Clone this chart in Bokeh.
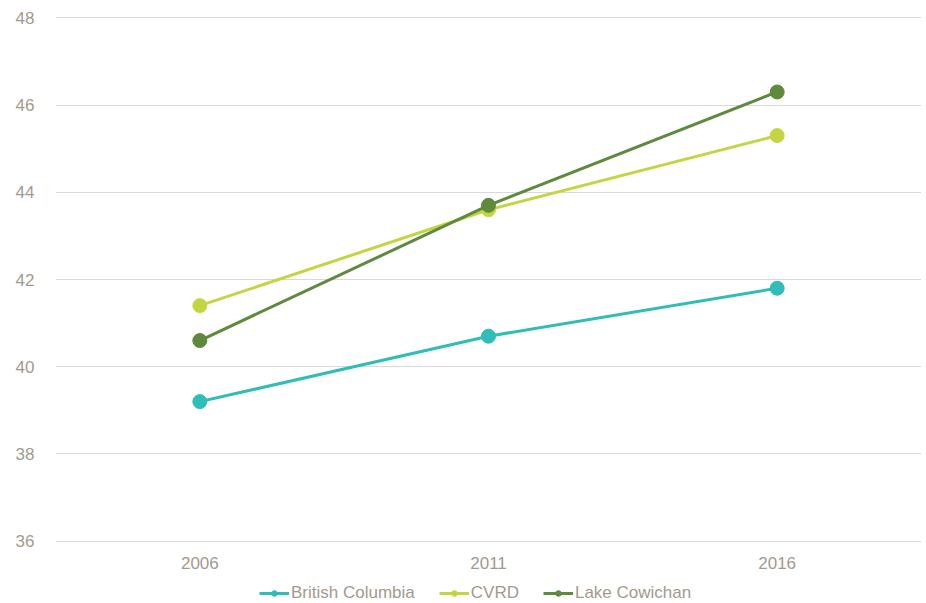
from bokeh.plotting import figure
from bokeh.models import Legend, LegendItem, ColumnDataSource, FixedTicker, Range1d
from bokeh.layouts import column
from bokeh.embed import file_html
from bokeh.resources import INLINE

years = ["2006", "2011", "2016"]
british_columbia = [39.2, 40.7, 41.8]
cvrd = [41.4, 43.6, 45.3]
lake_cowichan = [40.6, 43.7, 46.3]
y_ticks = [36, 38, 40, 42, 44, 46, 48]

series = [
    ("British Columbia", british_columbia, "#2fbdb7"),
    ("CVRD", cvrd, "#c3d641"),
    ("Lake Cowichan", lake_cowichan, "#5e8a3d"),
]

TEXT = "#a39a8f"
FONT = "Liberation Sans"
FS = "17px"

p = figure(x_range=years, y_range=Range1d(35.97, 48.03),
           width=921, height=577,
           min_border_left=55, min_border_top=16, min_border_right=0,
           min_border_bottom=35,
           output_backend="svg", toolbar_location=None)
p.x_range.range_padding = 0
p.outline_line_color = None
p.background_fill_color = "white"

p.yaxis.ticker = FixedTicker(ticks=y_ticks)
p.yaxis.axis_line_color = None
p.yaxis.major_tick_line_color = None
p.yaxis.minor_tick_line_color = None
p.yaxis.major_label_text_color = TEXT
p.yaxis.major_label_text_font = FONT
p.yaxis.major_label_text_font_size = FS
p.yaxis.major_label_standoff = 15

p.xaxis.axis_line_color = None
p.xaxis.major_tick_line_color = None
p.xaxis.minor_tick_line_color = None
p.xaxis.major_label_text_color = TEXT
p.xaxis.major_label_text_font = FONT
p.xaxis.major_label_text_font_size = FS
p.xaxis.major_label_standoff = 8

p.xgrid.grid_line_color = None
p.ygrid.grid_line_color = "#d9d9d9"
p.ygrid.grid_line_width = 1

# legend strip below the chart
lg = figure(width=921, height=26, x_range=Range1d(0, 1), y_range=Range1d(0, 1),
            min_border_left=0, min_border_right=0, min_border_top=0,
            min_border_bottom=0, output_backend="svg", toolbar_location=None)
lg.axis.visible = False
lg.grid.visible = False
lg.outline_line_color = None

items = []
for name, vals, color in series:
    src = ColumnDataSource(dict(x=years, y=vals))
    p.line("x", "y", source=src, line_color=color, line_width=3)
    p.scatter("x", "y", source=src, size=14, fill_color=color, line_color=color)
    key = ColumnDataSource(dict(x=[float("nan")], y=[float("nan")]))
    l2 = lg.line("x", "y", source=key, line_color=color, line_width=3)
    s2 = lg.scatter("x", "y", source=key, size=14, fill_color=color, line_color=color)
    items.append(LegendItem(label=name, renderers=[l2, s2]))

legend = Legend(items=items, orientation="horizontal", location=(204, 0),
                border_line_color=None, background_fill_alpha=0,
                label_text_color=TEXT, label_text_font=FONT,
                label_text_font_size=FS, glyph_width=30, glyph_height=14,
                label_height=17, label_standoff=2, spacing=24, padding=0, margin=0)
lg.add_layout(legend, "center")

layout = column(p, lg, spacing=0)
open("out.html", "w").write(file_html(layout, INLINE))
